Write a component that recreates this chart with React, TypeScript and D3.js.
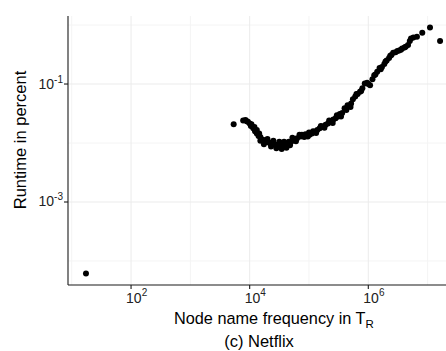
import React from "react";
import * as d3 from "d3";

// Values, as powers of ten
const freqExp: number[] = [
  1.24, 3.73, 3.89, 3.93, 3.97, 4.0, 4.02, 4.06, 4.09, 4.12, 4.15, 4.18, 4.21, 4.24, 4.27, 4.29, 4.32,
  4.35, 4.38, 4.41, 4.43, 4.46, 4.49, 4.52, 4.55, 4.57, 4.6, 4.63, 4.66, 4.69, 4.72, 4.74, 4.8, 4.86,
  4.88, 4.94, 4.98, 5.01, 5.05, 5.09, 5.14, 5.18, 5.22, 5.28, 5.32, 5.36, 5.41, 5.45, 5.49, 5.52, 5.56,
  5.6, 5.63, 5.67, 5.71, 5.74, 5.78, 5.82, 5.86, 5.9, 5.94, 5.98, 6.03, 6.07, 6.1, 6.15, 6.19, 6.23,
  6.27, 6.31, 6.35, 6.39, 6.42, 6.46, 6.52, 6.57, 6.61, 6.67, 6.72, 6.76, 6.82, 6.91, 7.04, 7.21,
  3.95, 4.03, 4.08, 4.12, 4.16, 4.18, 4.24, 4.3, 4.36, 4.4, 4.45, 4.5, 4.54, 4.58, 4.62, 4.68, 4.72,
  4.78, 4.84, 4.92, 5.0, 5.07, 5.12, 5.2, 5.26, 5.34, 5.4, 5.47, 5.54, 5.65, 5.7, 5.8, 5.88, 6.0, 6.12,
  6.21, 6.29, 6.37, 6.49, 6.55, 6.63, 6.7,
];
const runtimeExp: number[] = [
  -4.21, -1.68, -1.62, -1.61, -1.64, -1.67, -1.71, -1.75, -1.8, -1.84, -1.88, -1.9, -1.94, -1.96, -1.95,
  -1.98, -1.99, -2.01, -1.99, -2.02, -2.03, -2.05, -2.02, -2.05, -2.07, -2.03, -2.02, -2.01, -1.98, -1.99,
  -1.96, -1.95, -1.92, -1.89, -1.86, -1.85, -1.89, -1.86, -1.84, -1.81, -1.78, -1.75, -1.72, -1.69, -1.67,
  -1.64, -1.6, -1.58, -1.55, -1.51, -1.49, -1.41, -1.44, -1.38, -1.33, -1.26, -1.21, -1.17, -1.13, -1.07,
  -0.99, -0.98, -1.02, -0.92, -0.85, -0.79, -0.73, -0.71, -0.66, -0.6, -0.56, -0.51, -0.47, -0.46, -0.43,
  -0.4, -0.38, -0.34, -0.23, -0.21, -0.2, -0.13, -0.04, -0.27,
  -1.63, -1.68, -1.73, -1.78, -1.84, -1.96, -2.02, -1.93, -2.06, -1.96, -2.09, -1.98, -2.1, -1.98, -2.08,
  -2.04, -1.91, -1.97, -1.86, -1.9, -1.82, -1.8, -1.83, -1.71, -1.74, -1.62, -1.66, -1.53, -1.55, -1.36,
  -1.39, -1.17, -1.12, -1.0, -0.84, -0.75, -0.62, -0.52, -0.44, -0.42, -0.37, -0.27,
];

const xMajorTicks: number[] = [2, 4, 6];
const xMinorTicks: number[] = [1, 3, 5, 7];
const yMajorTicks: number[] = [-1, -3];
const yMinorTicks: number[] = [0, -2, -4];

const xTitle = "Node name frequency in T";
const xTitleSub = "R";
const yTitle = "Runtime in percent";
const caption = "(c) Netflix";

const W = 446;
const H = 351;
const left = 68;
const right = 446;
const top = 16;
const bottom = 285;

const FONT = "'Liberation Sans', Arial, Helvetica, sans-serif";

export default function App() {
  const x = d3.scaleLog().domain([10 ** 0.937, 10 ** 7.31]).range([left, right]);
  const y = d3.scaleLog().domain([10 ** -4.407, 10 ** 0.153]).range([bottom, top]);

  const pts = freqExp.map((e, i) => ({ f: 10 ** e, r: 10 ** runtimeExp[i] }));

  return (
    <svg
      width={W}
      height={H}
      style={{ position: "absolute", left: 0, top: 0, background: "#fff" }}
      fontFamily={FONT}
    >
      <rect x={0} y={0} width={W} height={H} fill="#fff" />
      {/* minor grid */}
      {xMinorTicks.map((e) => (
        <line key={"xm" + e} x1={x(10 ** e)} x2={x(10 ** e)} y1={top} y2={bottom} stroke="#f4f4f4" strokeWidth={1} />
      ))}
      {yMinorTicks.map((e) => (
        <line key={"ym" + e} x1={left} x2={right} y1={y(10 ** e)} y2={y(10 ** e)} stroke="#f4f4f4" strokeWidth={1} />
      ))}
      {/* major grid */}
      {xMajorTicks.map((e) => (
        <line key={"xM" + e} x1={x(10 ** e)} x2={x(10 ** e)} y1={top} y2={bottom} stroke="#ebebeb" strokeWidth={1} />
      ))}
      {yMajorTicks.map((e) => (
        <line key={"yM" + e} x1={left} x2={right} y1={y(10 ** e)} y2={y(10 ** e)} stroke="#ebebeb" strokeWidth={1} />
      ))}

      {/* points */}
      {pts.map((p, i) => (
        <circle key={i} cx={x(p.f)} cy={y(p.r)} r={3} fill="#000" />
      ))}

      {/* axes */}
      <line x1={left} x2={left} y1={top} y2={bottom} stroke="#1a1a1a" strokeWidth={1.1} />
      <line x1={left} x2={right} y1={bottom} y2={bottom} stroke="#1a1a1a" strokeWidth={1.1} />

      {yMajorTicks.map((e) => (
        <g key={"yt" + e}>
          <line x1={left - 4} x2={left} y1={y(10 ** e)} y2={y(10 ** e)} stroke="#1a1a1a" strokeWidth={1.1} />
          <text x={left - 5} y={y(10 ** e) + 4.5} textAnchor="end" fontSize={14} fill="#222">
            10
            <tspan dy={-6} fontSize={10}>
              {String(e)}
            </tspan>
          </text>
        </g>
      ))}
      {xMajorTicks.map((e) => (
        <g key={"xt" + e}>
          <line x1={x(10 ** e)} x2={x(10 ** e)} y1={bottom} y2={bottom + 4} stroke="#1a1a1a" strokeWidth={1.1} />
          <text x={x(10 ** e) - 5} y={302.5} fontSize={14} fill="#222">
            10
            <tspan dy={-7} fontSize={10}>
              {String(e)}
            </tspan>
          </text>
        </g>
      ))}

      <text x={174} y={323.5} fontSize={16.3} fill="#000">
        {xTitle}
        <tspan dy={4} fontSize={11.5}>
          {xTitleSub}
        </tspan>
      </text>
      <text transform={`translate(26,140) rotate(-90)`} textAnchor="middle" fontSize={16.5} fill="#000">
        {yTitle}
      </text>
      <text x={259} y={347} textAnchor="middle" fontSize={16.5} fill="#000">
        {caption}
      </text>
    </svg>
  );
}
